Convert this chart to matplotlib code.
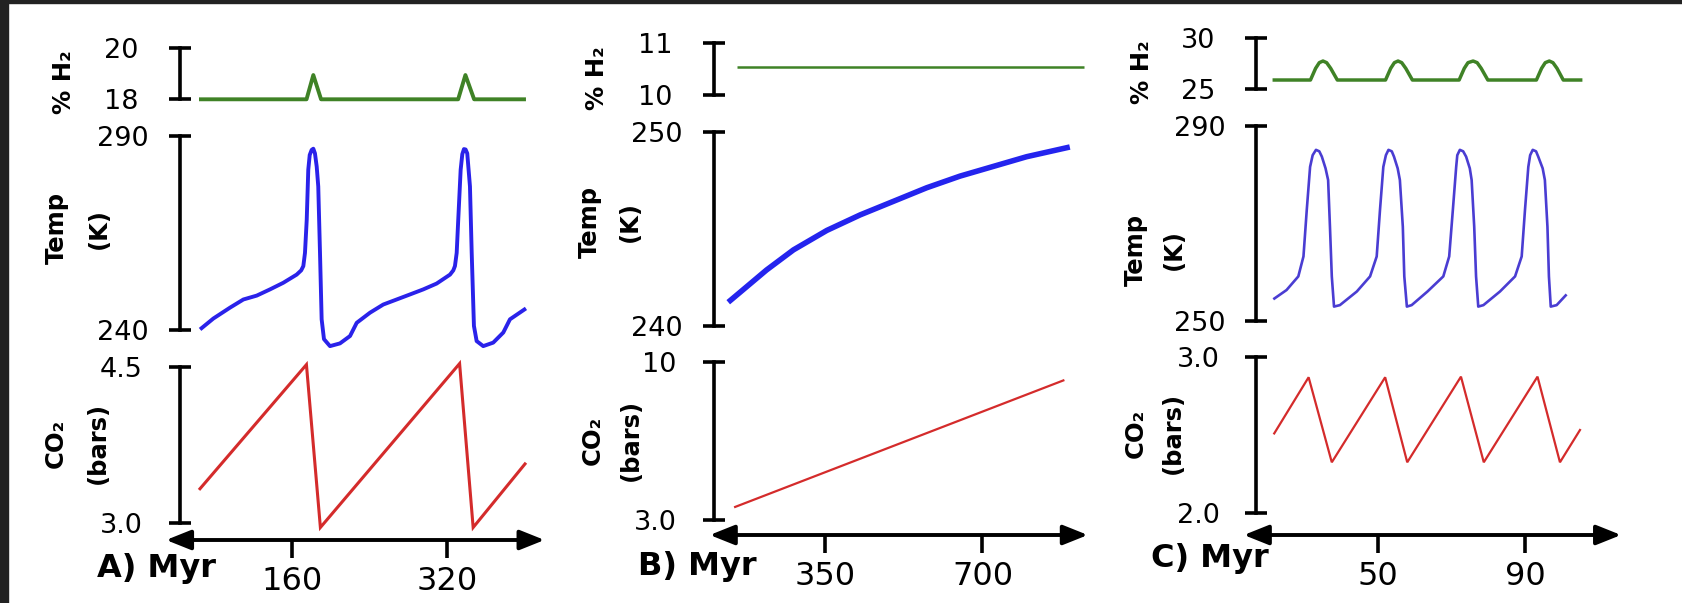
import matplotlib
matplotlib.use("Agg")
import matplotlib.pyplot as plt
from matplotlib.patches import Rectangle

# ---------------- data ----------------
# Panel A
a_h2_myr = [64, 175, 182, 190, 331.5, 339, 348, 401.5]
a_h2_pct = [18.0, 18.0, 18.94, 18.0, 18.0, 18.94, 18.0, 18.0]
a_temp_myr = [65.1, 78.8, 96, 109.8, 123.6, 137.3, 151, 164.8, 169.5, 171.7, 173.4, 175.2, 176.8,
              178.3, 180.3, 182.0, 183.7, 185.5, 187.1, 188.9, 190.6, 193, 199.2, 209.5, 219.9,
              226.8, 240.5, 254.2, 268, 281.8, 295.5, 309.3, 323.1, 326.5, 328.2, 330, 331.6,
              334.1, 335.8, 337.5, 339.2, 340.9, 343.7, 345.5, 347.8, 350.6, 357.4, 367.7,
              378.1, 385, 401.5]
a_temp_k = [240.1, 242.9, 245.7, 247.8, 248.8, 250.4, 252.1, 254.2, 255.3, 256.4, 259.8, 268.3, 281.2,
            285.0, 286.3, 286.6, 285.4, 282.0, 276.9, 259.8, 242.7, 237.6, 235.8, 236.5, 238.4,
            241.8, 244.4, 246.5, 247.8, 249.1, 250.4, 251.9, 254.2, 255.3, 256.4, 259.8, 268.3,
            281.2, 285.2, 286.5, 286.4, 285.4, 276.9, 259.8, 241.0, 237.1, 235.8, 236.7,
            239.3, 242.7, 245.5]
a_co2_myr = [64, 174.9, 189.3, 333, 347, 401.5]
a_co2_bar = [3.32, 4.52, 2.96, 4.53, 2.96, 3.58]
a_xticks = [160, 320]
a_arrow = [30, 420.7]

# Panel B
b_h2_myr = [154, 926]
b_h2_pct = [10.54, 10.54]
b_temp_myr = [135, 176, 220, 280, 354, 428, 502, 576, 650, 724, 798, 894]
b_temp_k = [241.2, 242.0, 242.86, 243.9, 244.9, 245.7, 246.4, 247.1, 247.7, 248.2, 248.7, 249.2]
b_co2_myr = [148, 882]
b_co2_bar = [3.56, 9.19]
b_xticks = [350, 700]
b_arrow = [94, 934]

# Panel C
c_h2_myr = [21.4,
            31.7, 33.1, 34.1, 35.1, 36.1, 37.2, 39.0,
            52.1, 53.5, 54.5, 55.5, 56.5, 57.6, 59.4,
            72.1, 73.5, 74.5, 75.9, 77.0, 78.1, 79.9,
            93.1, 94.5, 95.5, 96.6, 97.6, 98.7, 100.4,
            105.6]
c_h2_pct = [25.9,
            25.9, 27.03, 27.58, 27.74, 27.58, 27.03, 25.9,
            25.9, 27.03, 27.58, 27.74, 27.58, 27.03, 25.9,
            25.9, 27.03, 27.58, 27.74, 27.58, 27.03, 25.9,
            25.9, 27.03, 27.58, 27.74, 27.58, 27.03, 25.9,
            25.9]
c_temp_myr = [21.6, 25.2, 28.4, 29.8, 30.7, 31.6, 32.3, 33.2, 34.1, 34.8, 35.8, 36.5, 37.0, 37.5, 38.1, 39.7,
              44.3, 47.9, 49.7, 50.6, 51.5, 52.2, 52.9, 53.8, 54.4, 55.4, 56.0, 56.8, 57.2, 57.9, 59.2,
              63.5, 67.8, 69.4, 70.4, 71.3, 71.6, 72.3, 73.2, 74.0, 75.0, 75.5, 76.2, 76.7, 77.3, 78.7,
              83.2, 87.3, 89.1, 90.0, 90.9, 91.4, 92.1, 93.0, 93.6, 94.8, 95.4, 96.1, 96.5, 97.0, 98.6, 101.3]
c_temp_k = [254.4, 256.3, 259.1, 263.2, 272.8, 281.6, 284.0, 285.1, 284.8, 283.7, 281.3, 278.9, 269.3, 259.1, 252.9, 253.2,
            256.0, 259.1, 263.2, 272.8, 281.6, 284.0, 285.1, 284.8, 283.7, 281.3, 278.9, 269.3, 259.1, 252.9, 253.2,
            256.0, 259.1, 263.2, 272.8, 281.6, 284.0, 285.1, 284.8, 283.7, 281.3, 278.9, 269.3, 259.1, 252.9, 253.2,
            256.0, 259.1, 263.2, 272.8, 281.6, 284.0, 285.1, 284.8, 283.7, 281.3, 278.9, 269.3, 259.1, 252.9, 253.2, 255.4]
c_co2_myr = [21.7, 31.2, 37.5, 52.0, 58.0, 72.6, 78.8, 93.4, 99.5, 105.1]
c_co2_bar = [2.506, 2.872, 2.327, 2.872, 2.327, 2.876, 2.327, 2.876, 2.327, 2.540]
c_xticks = [50, 90]
c_arrow = [13.6, 116.1]

h2_ticks = {"A": [18, 20], "B": [10, 11], "C": [25, 30]}
temp_ticks = {"A": [240, 290], "B": [240, 250], "C": [250, 290]}
co2_ticks = {"A": [3.0, 4.5], "B": [3.0, 10], "C": [2.0, 3.0]}
co2_ticklabels = {"A": ["3.0", "4.5"], "B": ["3.0", "10"], "C": ["2.0", "3.0"]}

# ---------------- figure ----------------
W, H, DPI = 1683, 603, 100
fig = plt.figure(figsize=(W / DPI, H / DPI), dpi=DPI)
fig.patch.set_facecolor("white")
plt.rcParams["font.family"] = ["DejaVu Sans"]

# dark frame of the screenshot
fig.patches.append(Rectangle((0, 1 - 3 / H), 1, 3 / H, transform=fig.transFigure,
                             color="#222222", zorder=0))
fig.patches.append(Rectangle((0, 0), 8 / W, 1, transform=fig.transFigure,
                             color="#222222", zorder=0))

AXLW = 2.6
CAPLEN = 16
YLAB = 19.5
XLAB = 23


def make_axes(xpx, xval, ypx, yval, box):
    l, r, t, b = box
    ax = fig.add_axes([l / W, 1 - b / H, (r - l) / W, (b - t) / H])
    sx = (xval[1] - xval[0]) / (xpx[1] - xpx[0])
    ax.set_xlim(xval[0] + (l - xpx[0]) * sx, xval[0] + (r - xpx[0]) * sx)
    sy = (yval[1] - yval[0]) / (ypx[1] - ypx[0])
    ax.set_ylim(yval[0] + (b - ypx[0]) * sy, yval[0] + (t - ypx[0]) * sy)
    ax.patch.set_alpha(0)
    for s in ["top", "right", "bottom"]:
        ax.spines[s].set_visible(False)
    ax.spines["left"].set_bounds(min(yval), max(yval))
    ax.spines["left"].set_linewidth(AXLW)
    return ax


def yticks(ax, vals, labels, pad):
    ax.set_yticks(vals, labels)
    ax.tick_params(axis="y", direction="inout", length=CAPLEN, width=AXLW,
                   pad=pad, labelsize=YLAB)


def vlabel(x, y, s):
    fig.text(x / W, 1 - y / H, s, rotation=90, ha="center", va="center",
             fontsize=17.5, fontweight="bold")


panels = {
    "A": dict(xpx=(292, 447), bar=179.6, right=550,
              h2=((99.3, 47.7), (40, 105)), temp=((329.8, 135.5), (125, 335)),
              co2=((523.3, 366.7), (355, 540)),
              h2d=(a_h2_myr, a_h2_pct), tempd=(a_temp_myr, a_temp_k), co2d=(a_co2_myr, a_co2_bar),
              xticks=a_xticks, arrow=a_arrow,
              lw=dict(g=2.8, b=2.8, r=2.2),
              labels=dict(h2=(64, 82), temp=(57, 99, 228), co2=(56, 98, 443)),
              plabel=("A) Myr", 157, 568)),
    "B": dict(xpx=(825, 982.5), bar=713.6, right=1095,
              h2=((95, 42.7), (35, 105)), temp=((325.5, 131.5), (120, 335)),
              co2=((520, 361.7), (350, 535)),
              h2d=(b_h2_myr, b_h2_pct), tempd=(b_temp_myr, b_temp_k), co2d=(b_co2_myr, b_co2_bar),
              xticks=b_xticks, arrow=b_arrow,
              lw=dict(g=1.8, b=4.0, r=1.6),
              labels=dict(h2=(597, 78), temp=(590, 630, 222), co2=(593, 631, 440)),
              plabel=("B) Myr", 697, 566)),
    "C": dict(xpx=(1377.8, 1525), bar=1256.4, right=1630,
              h2=((89.3, 37.7), (30, 100)), temp=((320.7, 126), (115, 330)),
              co2=((513.3, 357.3), (345, 535)),
              h2d=(c_h2_myr, c_h2_pct), tempd=(c_temp_myr, c_temp_k), co2d=(c_co2_myr, c_co2_bar),
              xticks=c_xticks, arrow=c_arrow,
              lw=dict(g=2.5, b=1.9, r=1.6),
              labels=dict(h2=(1142, 72), temp=(1136, 1174, 250), co2=(1136, 1173, 433)),
              plabel=("C) Myr", 1210, 559)),
}

GREEN = "#3f8226"
BLUE = {"A": "#2a22ea", "B": "#2424ee", "C": "#4a3dd2"}
RED = "#d42b2b"

for key, p in panels.items():
    xval = tuple(p["xticks"])
    box_lr = (p["bar"], p["right"])

    # H2
    ypx, (t, b) = p["h2"]
    ax1 = make_axes(p["xpx"], xval, ypx, tuple(h2_ticks[key]), (box_lr[0], box_lr[1], t, b))
    ax1.plot(*p["h2d"], color=GREEN, lw=p["lw"]["g"], clip_on=False,
             solid_capstyle="butt", solid_joinstyle="round")
    yticks(ax1, h2_ticks[key], [str(v) for v in h2_ticks[key]], 21.5)
    ax1.set_xticks([])

    # Temperature
    ypx, (t, b) = p["temp"]
    ax2 = make_axes(p["xpx"], xval, ypx, tuple(temp_ticks[key]), (box_lr[0], box_lr[1], t, b))
    ax2.plot(*p["tempd"], color=BLUE[key], lw=p["lw"]["b"], clip_on=False,
             solid_capstyle="butt", solid_joinstyle="round")
    yticks(ax2, temp_ticks[key], [str(v) for v in temp_ticks[key]], 14.5)
    ax2.set_xticks([])

    # CO2
    ypx, (t, b) = p["co2"]
    ax3 = make_axes(p["xpx"], xval, ypx, tuple(co2_ticks[key]), (box_lr[0], box_lr[1], t, b))
    ax3.plot(*p["co2d"], color=RED, lw=p["lw"]["r"], clip_on=False,
             solid_capstyle="butt", solid_joinstyle="miter")
    yticks(ax3, co2_ticks[key], co2_ticklabels[key], 18.5)
    ax3.set_xticks(p["xticks"], [str(v) for v in p["xticks"]])
    ax3.tick_params(axis="x", direction="out", length=13, width=AXLW, pad=6.0,
                    labelsize=XLAB)
    ax3.annotate("", xy=(p["arrow"][1], 0), xytext=(p["arrow"][0], 0),
                 xycoords=("data", "axes fraction"), textcoords=("data", "axes fraction"),
                 arrowprops=dict(arrowstyle="<|-|>,head_length=0.75,head_width=0.3",
                                 lw=2.8, color="black", shrinkA=0, shrinkB=0,
                                 mutation_scale=20),
                 annotation_clip=False)

    lb = p["labels"]
    vlabel(lb["h2"][0], lb["h2"][1], "% H₂")
    vlabel(lb["temp"][0], lb["temp"][2], "Temp")
    vlabel(lb["temp"][1], lb["temp"][2], "(K)")
    vlabel(lb["co2"][0], lb["co2"][2], "CO₂")
    vlabel(lb["co2"][1], lb["co2"][2], "(bars)")

    s, x, y = p["plabel"]
    fig.text(x / W, 1 - y / H, s, ha="center", va="center", fontsize=XLAB,
             fontweight="bold")

fig.savefig("out.png", dpi=DPI, facecolor=fig.get_facecolor())
